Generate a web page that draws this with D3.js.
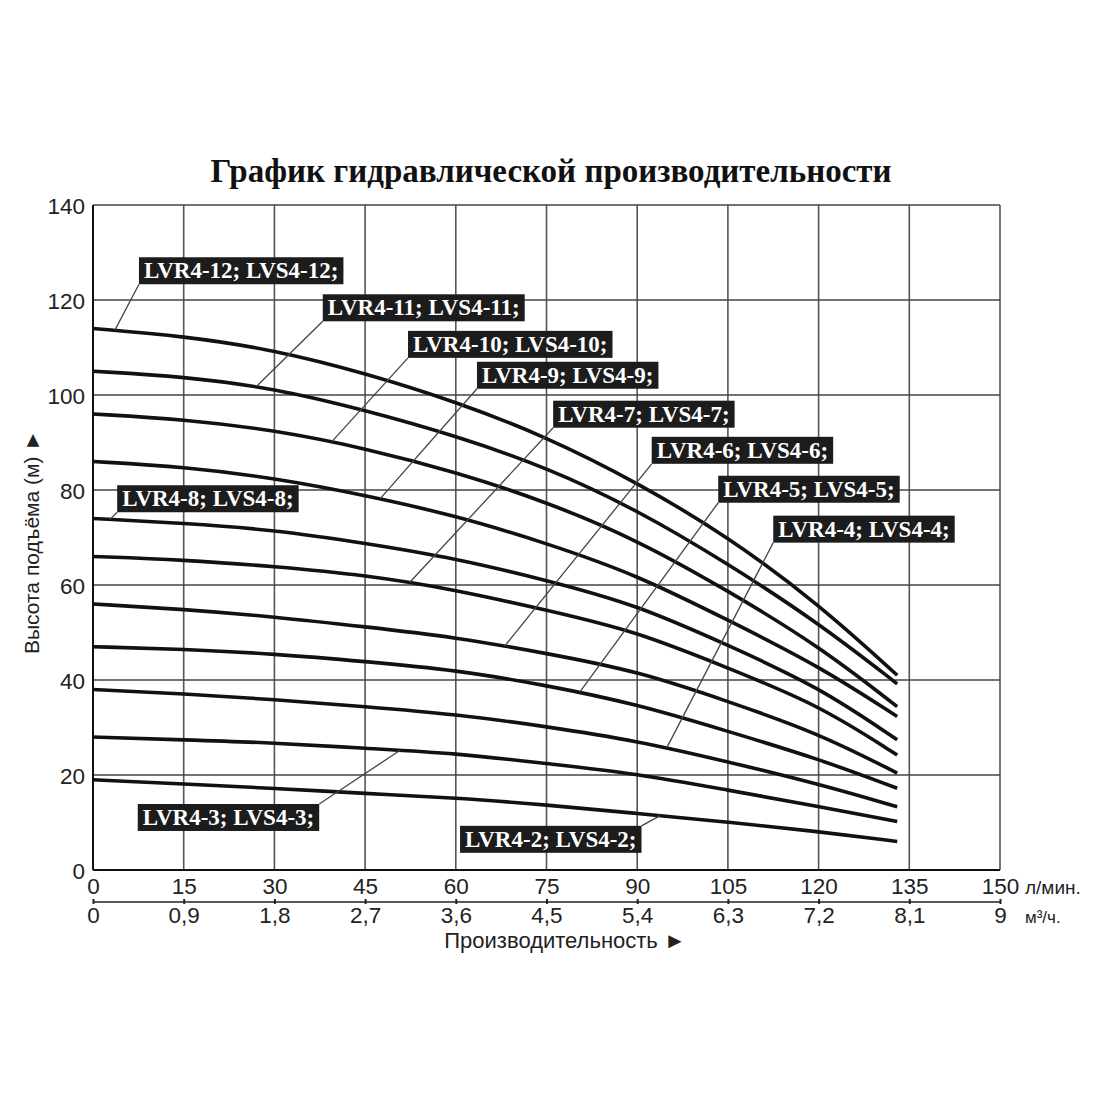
<!DOCTYPE html>
<html>
<head>
<meta charset="utf-8">
<script src="https://cdn.jsdelivr.net/npm/d3@7"></script>
<style>
  body { margin: 0; background: #fff; }
  .canvas { width: 1100px; height: 1100px; }
</style>
</head>
<body>
<div class="canvas"></div>
<script>
// data
const flow = [0, 15, 30, 45, 60, 75, 90, 105, 120, 133]; // л/мин

const head12 = [114, 112.4, 109.5, 104.6, 98.6, 91.2, 81.6, 70.2, 56, 41];
const head11 = [105, 103.9, 101.4, 96.8, 91.4, 84.8, 75.8, 64.5, 52, 39.2];
const head10 = [96, 94.9, 92.6, 88.8, 83.8, 77.5, 69.5, 58.8, 47.2, 34.4];
const head9  = [86, 84.9, 82.5, 78.9, 74.6, 68.8, 62.1, 52.6, 43, 32.3];
const head8  = [74, 73, 71.6, 68.8, 65.6, 61, 55.8, 47.3, 38.6, 27.4];
const head7  = [66, 65.3, 63.9, 62.1, 59, 54.7, 50.2, 42.5, 34.8, 24.2];
const head6  = [56, 54.9, 53.3, 51.2, 49, 45.6, 41.9, 35.5, 28.8, 20.4];
const head5  = [47, 46.5, 45.5, 43.9, 42.1, 38.9, 34.9, 29.2, 23.4, 17.2];
const head4  = [38, 37.1, 35.9, 34.4, 32.8, 30.2, 27.2, 22.8, 18.1, 13.3];
const head3  = [28, 27.4, 26.8, 25.6, 24.6, 22.4, 20.3, 16.8, 13.4, 10.2];
const head2  = [19, 18.1, 17.2, 16.1, 15.2, 13.7, 11.9, 10.1, 8.1, 6];

const models = [
  'LVR4-12; LVS4-12;', 'LVR4-11; LVS4-11;', 'LVR4-10; LVS4-10;',
  'LVR4-9; LVS4-9;', 'LVR4-8; LVS4-8;', 'LVR4-7; LVS4-7;',
  'LVR4-6; LVS4-6;', 'LVR4-5; LVS4-5;', 'LVR4-4; LVS4-4;',
  'LVR4-3; LVS4-3;', 'LVR4-2; LVS4-2;'
];
const heads = [head12, head11, head10, head9, head8, head7, head6, head5, head4, head3, head2];

const flowTicks = [0, 15, 30, 45, 60, 75, 90, 105, 120, 135, 150];
const m3Ticks = [0, 0.9, 1.8, 2.7, 3.6, 4.5, 5.4, 6.3, 7.2, 8.1, 9];
const headTicks = [0, 20, 40, 60, 80, 100, 120, 140];

const title = 'График гидравлической производительности';
const xTitle = 'Производительность ►';
const yTitle = 'Высота подъёма (м) ►';

// where each label box sits (data units: left edge q, top edge h) and where its leader hits the curve
const labelLayout = [
  {i: 0,  q: 7.6,   h: 129,   to: 3.6,  corner: 'bl'},
  {i: 1,  q: 38,    h: 121.2, to: 27.1, corner: 'bl'},
  {i: 2,  q: 52.1,  h: 113.5, to: 39.5, corner: 'bl'},
  {i: 3,  q: 63.5,  h: 107,   to: 47.5, corner: 'bl'},
  {i: 4,  q: 4,     h: 81,    to: 2.8,  corner: 'bl'},
  {i: 5,  q: 76.1,  h: 98.8,  to: 52.4, corner: 'bl'},
  {i: 6,  q: 92.4,  h: 91.2,  to: 68.1, corner: 'bl'},
  {i: 7,  q: 103.4, h: 83,    to: 80.5, corner: 'bl'},
  {i: 8,  q: 112.5, h: 74.6,  to: 94.9, corner: 'bl'},
  {i: 9,  q: 7.4,   h: 13.9,  to: 50.8, corner: 'tr'},
  {i: 10, q: 60.7,  h: 9.3,   to: 93.8, corner: 'tr'}
];

const series = models.map((m, i) => ({
  name: m,
  points: flow.map((q, j) => ({q, h: heads[i][j]}))
}));

// svg + margins
const svg = d3.select('.canvas')
  .append('svg')
    .attr('width', 1100)
    .attr('height', 1100);

const margin = {top: 205, right: 100, bottom: 230, left: 93};
const graphWidth = 1100 - margin.left - margin.right;   // 907
const graphHeight = 1100 - margin.top - margin.bottom;  // 665

const graph = svg.append('g')
  .attr('transform', `translate(${margin.left}, ${margin.top})`);

const x = d3.scaleLinear().domain([0, 150]).range([0, graphWidth]);
const x2 = d3.scaleLinear().domain([0, 9]).range([0, graphWidth]);
const y = d3.scaleLinear().domain([0, 140]).range([graphHeight, 0]);

const sans = '"Liberation Sans", Arial, sans-serif';
const serif = '"Liberation Serif", "Times New Roman", serif';

// title
svg.append('text')
  .attr('x', 551)
  .attr('y', 182)
  .attr('text-anchor', 'middle')
  .attr('font-family', serif)
  .attr('font-weight', 'bold')
  .attr('font-size', 33)
  .attr('fill', '#111')
  .text(title);

// grid
graph.append('g')
  .selectAll('line')
  .data(flowTicks.slice(1))
  .enter().append('line')
    .attr('x1', d => x(d)).attr('x2', d => x(d))
    .attr('y1', 0).attr('y2', graphHeight)
    .attr('stroke', '#555')
    .attr('stroke-width', 1.6);

graph.append('g')
  .selectAll('line')
  .data(headTicks.slice(1))
  .enter().append('line')
    .attr('x1', 0).attr('x2', graphWidth)
    .attr('y1', d => y(d)).attr('y2', d => y(d))
    .attr('stroke', '#444')
    .attr('stroke-width', 1.6);

// left + bottom frame
graph.append('line')
  .attr('x1', 0).attr('x2', 0).attr('y1', 0).attr('y2', graphHeight)
  .attr('stroke', '#111').attr('stroke-width', 2);
graph.append('line')
  .attr('x1', 0).attr('x2', graphWidth).attr('y1', graphHeight).attr('y2', graphHeight)
  .attr('stroke', '#111').attr('stroke-width', 2);

// axes
const yAxis = d3.axisLeft(y).tickValues(headTicks).tickSize(0).tickPadding(8);
const xAxis = d3.axisBottom(x).tickValues(flowTicks).tickSize(0).tickPadding(8);
const x2Axis = d3.axisBottom(x2).tickValues(m3Ticks).tickSizeInner(3).tickSizeOuter(0).tickPadding(3)
  .tickFormat(d => String(+d.toFixed(1)).replace('.', ','));

const yAxisGroup = graph.append('g').call(yAxis);
const xAxisGroup = graph.append('g').attr('transform', `translate(0, ${graphHeight})`).call(xAxis);
const x2AxisGroup = graph.append('g').attr('transform', `translate(0, ${graphHeight + 31.5})`).call(x2Axis);

yAxisGroup.select('.domain').remove();
xAxisGroup.select('.domain').remove();

[yAxisGroup, xAxisGroup, x2AxisGroup].forEach(g => {
  g.selectAll('text')
    .attr('font-family', sans)
    .attr('font-size', 22.5)
    .attr('fill', '#222');
});
yAxisGroup.selectAll('text').attr('dy', '0.36em');
x2AxisGroup.select('.domain').attr('stroke', '#222').attr('stroke-width', 1.6);
x2AxisGroup.selectAll('.tick line')
  .attr('y1', -2.5).attr('y2', 2.5)
  .attr('stroke', '#222').attr('stroke-width', 2);

// units
svg.append('text')
  .attr('x', 1025).attr('y', 894)
  .attr('font-family', sans).attr('font-size', 19).attr('fill', '#222')
  .text('л/мин.');
svg.append('text')
  .attr('x', 1025).attr('y', 923)
  .attr('font-family', sans).attr('font-size', 17).attr('fill', '#222')
  .text('м³/ч.');

// axis titles
svg.append('text')
  .attr('x', 565).attr('y', 948)
  .attr('text-anchor', 'middle')
  .attr('font-family', sans).attr('font-size', 22).attr('fill', '#222')
  .text(xTitle);

svg.append('text')
  .attr('transform', 'translate(39, 542) rotate(-90)')
  .attr('text-anchor', 'middle')
  .attr('font-family', sans).attr('font-size', 21).attr('fill', '#222')
  .text(yTitle);

// curves
const line = d3.line()
  .x(d => x(d.q))
  .y(d => y(d.h))
  .curve(d3.curveBasis);

graph.append('g')
  .selectAll('path')
  .data(series)
  .enter().append('path')
    .attr('d', d => line(d.points))
    .attr('fill', 'none')
    .attr('stroke', '#111')
    .attr('stroke-width', 3.6)
    .attr('stroke-linecap', 'butt');

// head on a curve at a given flow (linear between read points)
const headAt = (i, q) => {
  const h = heads[i];
  for (let j = 1; j < flow.length; j++) {
    if (q <= flow[j]) {
      const t = (q - flow[j - 1]) / (flow[j] - flow[j - 1]);
      return h[j - 1] + t * (h[j] - h[j - 1]);
    }
  }
  return h[h.length - 1];
};

// labels with leader lines
const labels = graph.append('g');
labelLayout.forEach(l => {
  const g = labels.append('g');
  const bx = x(l.q);
  const by = y(l.h);
  const txt = g.append('text')
    .attr('x', bx + 5)
    .attr('y', by + 21)
    .attr('font-family', serif)
    .attr('font-weight', 'bold')
    .attr('font-size', 23)
    .attr('fill', '#fff')
    .text(models[l.i]);
  const w = txt.node().getComputedTextLength() + 10;
  const hgt = 27;
  g.insert('rect', 'text')
    .attr('x', bx).attr('y', by)
    .attr('width', w).attr('height', hgt)
    .attr('fill', '#1c1c1c');

  const sx = l.corner === 'bl' ? bx : bx + w;
  const sy = l.corner === 'bl' ? by + hgt : by;
  labels.insert('line', ':first-child')
    .attr('x1', sx).attr('y1', sy)
    .attr('x2', x(l.to)).attr('y2', y(headAt(l.i, l.to)))
    .attr('stroke', '#444')
    .attr('stroke-width', 1.3);
});
</script>
</body>
</html>
